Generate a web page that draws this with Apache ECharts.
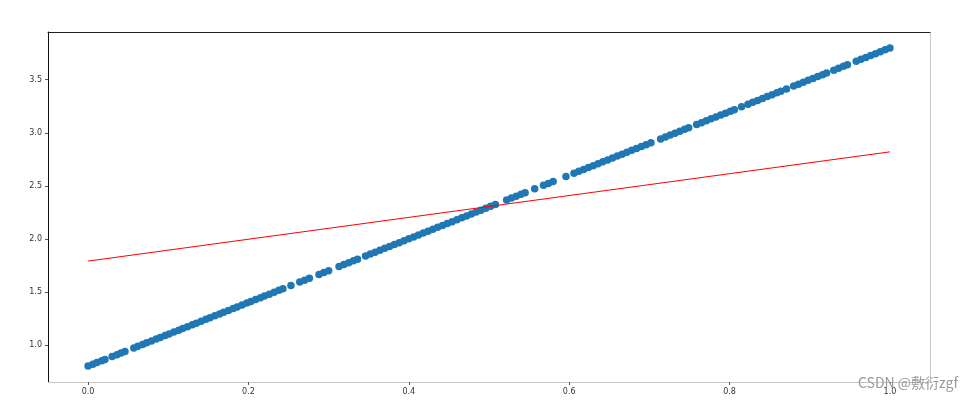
<!DOCTYPE html>
<html>
<head>
<meta charset="utf-8">
<script src="https://cdn.jsdelivr.net/npm/echarts@6/dist/echarts.min.js"></script>
<style>
  html, body { margin: 0; padding: 0; background: #fff; }
  #chart { width: 978px; height: 403px; }
</style>
</head>
<body>
<div id="chart"></div>
<script>
// scatter points (x, y)
const scatterX = [0.000, 0.006, 0.011, 0.017, 0.021, 0.030, 0.036, 0.041, 0.046,
  0.057, 0.062, 0.068, 0.073, 0.079, 0.085, 0.090, 0.096, 0.101, 0.107, 0.113, 0.118,
  0.124, 0.130, 0.135, 0.141, 0.147, 0.152, 0.158, 0.164, 0.169, 0.175, 0.181, 0.186,
  0.192, 0.198, 0.203, 0.209, 0.215, 0.220, 0.226, 0.232, 0.238, 0.243, 0.253,
  0.264, 0.270, 0.276, 0.288, 0.294, 0.300, 0.313, 0.319, 0.325, 0.331, 0.336,
  0.346, 0.352, 0.358, 0.364, 0.370, 0.376, 0.382, 0.388, 0.394, 0.400, 0.406, 0.412,
  0.418, 0.424, 0.430, 0.436, 0.442, 0.448, 0.454, 0.460, 0.466, 0.472, 0.478, 0.484,
  0.490, 0.496, 0.502, 0.508, 0.522, 0.528, 0.534, 0.540, 0.545, 0.557, 0.568, 0.574,
  0.580, 0.596, 0.606, 0.612, 0.618, 0.624, 0.630, 0.636, 0.642, 0.648, 0.654, 0.660,
  0.666, 0.672, 0.678, 0.684, 0.690, 0.696, 0.702, 0.714, 0.720, 0.726, 0.732, 0.738,
  0.744, 0.749, 0.759, 0.765, 0.771, 0.777, 0.783, 0.789, 0.795, 0.801, 0.806, 0.815,
  0.823, 0.829, 0.835, 0.841, 0.847, 0.853, 0.859, 0.864, 0.871, 0.880, 0.886, 0.892,
  0.898, 0.904, 0.910, 0.916, 0.921, 0.930, 0.936, 0.942, 0.947, 0.958, 0.964, 0.970,
  0.976, 0.982, 0.988, 0.994, 1.000]
const scatterY = [0.800, 0.818, 0.833, 0.851, 0.863, 0.890, 0.908, 0.923, 0.938,
  0.971, 0.986, 1.004, 1.019, 1.037, 1.055, 1.070, 1.088, 1.103, 1.121, 1.139, 1.154,
  1.172, 1.190, 1.205, 1.223, 1.241, 1.256, 1.274, 1.292, 1.307, 1.325, 1.343, 1.358,
  1.376, 1.394, 1.409, 1.427, 1.445, 1.460, 1.478, 1.496, 1.514, 1.529, 1.559,
  1.592, 1.610, 1.628, 1.664, 1.682, 1.700, 1.739, 1.757, 1.775, 1.793, 1.808,
  1.838, 1.856, 1.874, 1.892, 1.910, 1.928, 1.946, 1.964, 1.982, 2.000, 2.018, 2.036,
  2.054, 2.072, 2.090, 2.108, 2.126, 2.144, 2.162, 2.180, 2.198, 2.216, 2.234, 2.252,
  2.270, 2.288, 2.306, 2.324, 2.366, 2.384, 2.402, 2.420, 2.435, 2.471, 2.504, 2.522,
  2.540, 2.588, 2.618, 2.636, 2.654, 2.672, 2.690, 2.708, 2.726, 2.744, 2.762, 2.780,
  2.798, 2.816, 2.834, 2.852, 2.870, 2.888, 2.906, 2.942, 2.960, 2.978, 2.996, 3.014,
  3.032, 3.047, 3.077, 3.095, 3.113, 3.131, 3.149, 3.167, 3.185, 3.203, 3.218, 3.245,
  3.269, 3.287, 3.305, 3.323, 3.341, 3.359, 3.377, 3.392, 3.413, 3.440, 3.458, 3.476,
  3.494, 3.512, 3.530, 3.548, 3.563, 3.590, 3.608, 3.626, 3.641, 3.674, 3.692, 3.710,
  3.728, 3.746, 3.764, 3.782, 3.800]

// fitted red line end points
const lineX = [0.0, 1.0]
const lineY = [1.79, 2.82]

// tick labels
const xTicks = [0.0, 0.2, 0.4, 0.6, 0.8, 1.0]
const yTicks = [1.0, 1.5, 2.0, 2.5, 3.0, 3.5]

const chart = echarts.init(document.getElementById('chart'))

const scatterData = scatterX.map((x, i) => [x, scatterY[i]])
const lineData = lineX.map((x, i) => [x, lineY[i]])

const labelStyle = {
  color: '#333',
  fontSize: 8,
  fontFamily: 'DejaVu Sans',
  formatter: v => Number(v).toFixed(1)
}

// plain frame axis (spine only)
function spine(pos, color, min, max) {
  return {
    type: 'value',
    position: pos,
    min: min,
    max: max,
    splitLine: { show: false },
    axisLine: { show: true, onZero: false, lineStyle: { color: color, width: 1 } },
    axisTick: { show: false },
    axisLabel: { show: false }
  }
}

const option = {
  animation: false,
  backgroundColor: '#fff',
  grid: { left: 48, top: 32, right: 48, bottom: 21 },
  xAxis: [{
    type: 'value',
    position: 'bottom',
    min: -0.05,
    max: 1.05,
    splitLine: { show: false },
    axisLine: { show: true, onZero: false, lineStyle: { color: '#c8c8c8', width: 1 } },
    axisTick: { show: true, length: 3, customValues: xTicks, lineStyle: { color: '#555' } },
    axisLabel: Object.assign({ customValues: xTicks, margin: 6 }, labelStyle)
  }, spine('top', '#222', -0.05, 1.05)],
  yAxis: [{
    type: 'value',
    position: 'left',
    min: 0.65,
    max: 3.95,
    splitLine: { show: false },
    axisLine: { show: true, onZero: false, lineStyle: { color: '#111', width: 1 } },
    axisTick: { show: true, length: 3, customValues: yTicks, lineStyle: { color: '#555' } },
    axisLabel: Object.assign({ customValues: yTicks, margin: 6 }, labelStyle)
  }, spine('right', '#c8c8c8', 0.65, 3.95)],
  series: [{
    type: 'scatter',
    data: scatterData,
    symbolSize: 7.5,
    itemStyle: { color: '#1f77b4', opacity: 1 },
    z: 2
  }, {
    type: 'line',
    data: lineData,
    showSymbol: false,
    symbol: 'none',
    lineStyle: { color: '#ff0000', width: 1 },
    z: 3
  }],
  graphic: [{
    type: 'text',
    left: 858,
    top: 376,
    silent: true,
    style: {
      text: 'CSDN @敷衍zgf',
      fill: '#9a9a9a',
      font: '14px "Noto Sans CJK SC", sans-serif'
    },
    z: 10
  }]
}

chart.setOption(option)
</script>
</body>
</html>
